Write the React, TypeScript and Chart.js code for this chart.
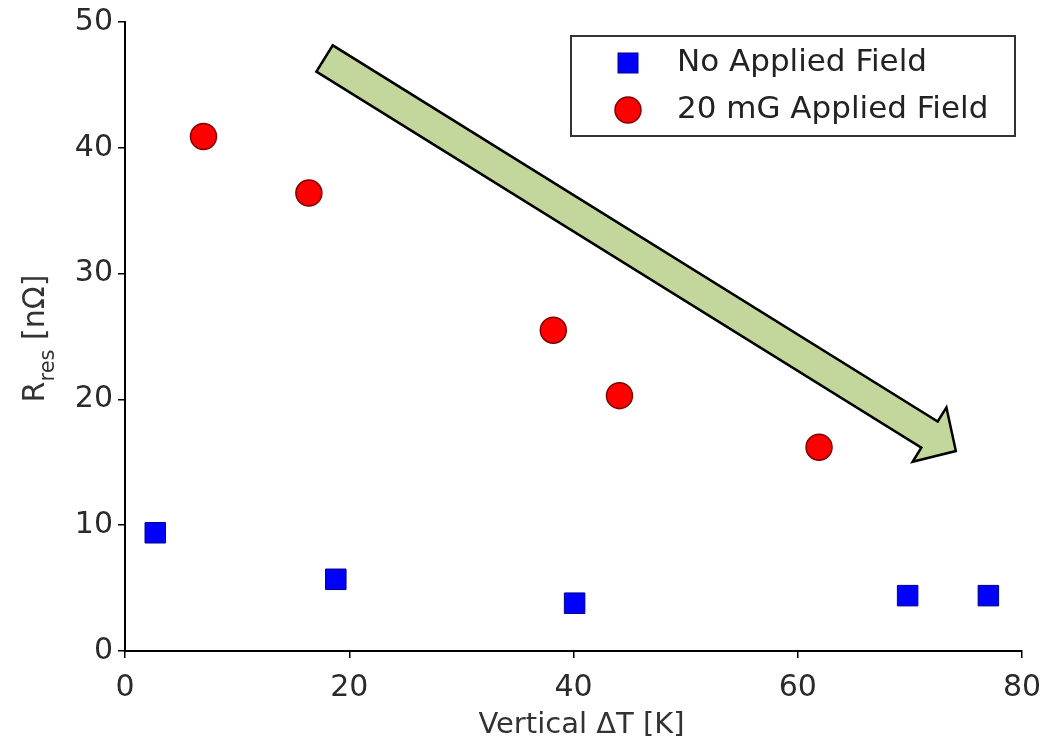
import React, { useEffect, useRef } from 'react';
import { Chart, registerables } from 'chart.js';

Chart.register(...registerables);

const noFieldX = [2.7, 18.8, 40.1, 69.8, 77.0];
const noFieldY = [9.4, 5.7, 3.8, 4.4, 4.4];
const fieldX = [7.0, 16.4, 38.2, 44.1, 61.9];
const fieldY = [40.9, 36.4, 25.5, 20.3, 16.2];
const seriesLabels = ['No Applied Field', '20 mG Applied Field'];
const xTickValues = [0, 20, 40, 60, 80];
const yTickValues = [0, 10, 20, 30, 40, 50];
const xTitle = 'Vertical \u0394T [K]';
const yTitleMain = 'R';
const yTitleSub = 'res';
const yTitleRest = ' [n\u03A9]';
// arrow annotation in data units: [x, y]
const arrowTail = [17.8, 47.1];
const arrowTip = [74.1, 15.9];

const FONT = '"DejaVu Sans", "Liberation Sans", sans-serif';

const overlayPlugin = {
  id: 'overlay',
  afterDatasetsDraw(chart: any) {
    const { ctx, chartArea, scales } = chart;
    const xs = scales.x;
    const ys = scales.y;
    ctx.save();

    // Arrow
    const tx = xs.getPixelForValue(arrowTail[0]);
    const ty = ys.getPixelForValue(arrowTail[1]);
    const px = xs.getPixelForValue(arrowTip[0]);
    const py = ys.getPixelForValue(arrowTip[1]);
    const len = Math.hypot(px - tx, py - ty);
    const dx = (px - tx) / len;
    const dy = (py - ty) / len;
    const nx = -dy;
    const ny = dx;
    const w = 15.5;
    const hw = 32;
    const hl = 31;
    const bx = px - dx * hl;
    const by = py - dy * hl;
    ctx.beginPath();
    ctx.moveTo(tx + nx * w, ty + ny * w);
    ctx.lineTo(bx + nx * w, by + ny * w);
    ctx.lineTo(bx + nx * hw, by + ny * hw);
    ctx.lineTo(px, py);
    ctx.lineTo(bx - nx * hw, by - ny * hw);
    ctx.lineTo(bx - nx * w, by - ny * w);
    ctx.lineTo(tx - nx * w, ty - ny * w);
    ctx.closePath();
    ctx.fillStyle = '#c3d69b';
    ctx.fill();
    ctx.lineWidth = 2.5;
    ctx.strokeStyle = '#000';
    ctx.lineJoin = 'miter';
    ctx.stroke();

    // Legend box
    const lr = chartArea.right - 7;
    const lt = chartArea.top + 14;
    const lw = 444;
    const lh = 100;
    const ll = lr - lw;
    ctx.fillStyle = '#fff';
    ctx.fillRect(ll, lt, lw, lh);
    ctx.lineWidth = 2;
    ctx.strokeStyle = '#333';
    ctx.strokeRect(ll, lt, lw, lh);
    const rows = [lt + 27, lt + 74];
    const mx = ll + 57;
    // square
    ctx.fillStyle = '#0000ff';
    ctx.strokeStyle = '#00008a';
    ctx.lineWidth = 1;
    ctx.fillRect(mx - 10, rows[0] - 10, 20, 20);
    ctx.strokeRect(mx - 10, rows[0] - 10, 20, 20);
    // circle
    ctx.beginPath();
    ctx.arc(mx, rows[1], 13, 0, Math.PI * 2);
    ctx.fillStyle = '#ff0000';
    ctx.fill();
    ctx.strokeStyle = '#800000';
    ctx.lineWidth = 1.5;
    ctx.stroke();
    ctx.fillStyle = '#222';
    ctx.font = `31px ${FONT}`;
    ctx.textAlign = 'left';
    ctx.textBaseline = 'middle';
    ctx.fillText(seriesLabels[0], ll + 106, rows[0]);
    ctx.fillText(seriesLabels[1], ll + 106, rows[1]);
    ctx.restore();
  },
  afterDraw(chart: any) {
    const { ctx, chartArea } = chart;
    ctx.save();
    ctx.fillStyle = '#333';
    // x title
    ctx.font = `29px ${FONT}`;
    ctx.textAlign = 'center';
    ctx.textBaseline = 'alphabetic';
    ctx.fillText(xTitle, (chartArea.left + chartArea.right) / 2 + 8, chartArea.bottom + 82);
    // y title with subscript
    const cy = (chartArea.top + chartArea.bottom) / 2 + 2;
    ctx.translate(44, cy);
    ctx.rotate(-Math.PI / 2);
    ctx.font = `30px ${FONT}`;
    const wR = ctx.measureText(yTitleMain).width;
    const wRest = ctx.measureText(yTitleRest).width;
    ctx.font = `21px ${FONT}`;
    const wSub = ctx.measureText(yTitleSub).width;
    const total = wR + wSub + wRest;
    let x = -total / 2;
    ctx.textAlign = 'left';
    ctx.font = `30px ${FONT}`;
    ctx.fillText(yTitleMain, x, 0);
    x += wR;
    ctx.font = `21px ${FONT}`;
    ctx.fillText(yTitleSub, x, 10);
    x += wSub;
    ctx.font = `30px ${FONT}`;
    ctx.fillText(yTitleRest, x, 0);
    ctx.restore();
  },
};

export default function App() {
  const ref = useRef<HTMLCanvasElement | null>(null);
  useEffect(() => {
    if (!ref.current) return;
    const chart = new Chart(ref.current, {
      type: 'scatter',
      data: {
        datasets: [
          {
            label: seriesLabels[0],
            data: noFieldX.map((x, i) => ({ x, y: noFieldY[i] })),
            pointStyle: 'rect',
            pointRadius: 14.5,
            backgroundColor: '#0000ff',
            borderColor: '#00008a',
            borderWidth: 1,
          },
          {
            label: seriesLabels[1],
            data: fieldX.map((x, i) => ({ x, y: fieldY[i] })),
            pointStyle: 'circle',
            pointRadius: 13,
            backgroundColor: '#ff0000',
            borderColor: '#800000',
            borderWidth: 1.5,
          },
        ],
      },
      options: {
        animation: false,
        responsive: true,
        maintainAspectRatio: false,
        layout: { padding: { top: 22, right: 24, left: 0, bottom: 0 } },
        plugins: {
          legend: { display: false },
          tooltip: { enabled: false },
        },
        scales: {
          x: {
            type: 'linear',
            min: 0,
            max: 80,
            afterBuildTicks: (s: any) => {
              s.ticks = xTickValues.map((v) => ({ value: v }));
            },
            afterFit: (s: any) => {
              s.height = 88;
              s.paddingLeft = 0;
              s.paddingRight = 0;
            },
            grid: {
              drawOnChartArea: false,
              drawTicks: true,
              tickLength: 7,
              color: '#000',
              lineWidth: 1.5,
            },
            border: { display: true, color: '#000', width: 2 },
            ticks: {
              color: '#2a2a2a',
              font: { family: FONT, size: 30 },
              padding: 12,
              maxRotation: 0,
            },
          },
          y: {
            type: 'linear',
            min: 0,
            max: 50,
            afterBuildTicks: (s: any) => {
              s.ticks = yTickValues.map((v) => ({ value: v }));
            },
            afterFit: (s: any) => {
              s.width = 125;
              s.paddingTop = 0;
              s.paddingBottom = 0;
            },
            grid: {
              drawOnChartArea: false,
              drawTicks: true,
              tickLength: 7,
              color: '#000',
              lineWidth: 1.5,
            },
            border: { display: true, color: '#000', width: 2 },
            ticks: {
              color: '#2a2a2a',
              font: { family: FONT, size: 30 },
              padding: 5,
            },
          },
        },
      },
      plugins: [overlayPlugin],
    });
    return () => chart.destroy();
  }, []);
  return (
    <div style={{ position: 'fixed', left: 0, top: 0, width: 1046, height: 739, background: '#fff' }}>
      <canvas ref={ref} style={{ display: 'block' }} />
    </div>
  );
}
